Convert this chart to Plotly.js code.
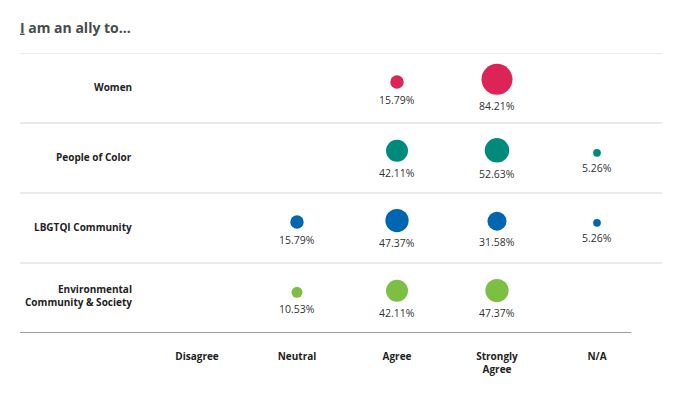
<!DOCTYPE html>
<html>
<head>
<meta charset="utf-8">
<script src="https://cdn.plot.ly/plotly-3.0.1.min.js"></script>
<style>html,body{margin:0;padding:0;background:#fff;}#chart{width:696px;height:396px;}</style>
</head>
<body>
<div id="chart"></div>
<script>
const responses = ['Disagree', 'Neutral', 'Agree', 'Strongly<br>Agree', 'N/A'];
const groups = ['Women', 'People of Color', 'LBGTQI Community', 'Environmental<br>Community & Society'];
const women = [null, null, 15.79, 84.21, null];
const peopleOfColor = [null, null, 42.11, 52.63, 5.26];
const lbgtqi = [null, 15.79, 47.37, 31.58, 5.26];
const environmental = [null, 10.53, 42.11, 47.37, null];
const seriesValues = [women, peopleOfColor, lbgtqi, environmental];
const colors = ['#DC2458', '#008A7C', '#0066B2', '#7CBF42'];

const font = "'Open Sans', 'Noto Sans', sans-serif";
const SIZEREF = 0.175;
const ROW_PX = 70; // plot height 280 / 4 rows
const radiusOf = v => Math.sqrt(v / 2 / SIZEREF); // plotly area-mode radius in px

const traces = [];
const annotations = [];
seriesValues.forEach((vals, r) => {
  const xs = [], ys = [], sz = [];
  vals.forEach((v, c) => {
    if (v === null) return;
    const rad = radiusOf(v);
    const yy = r - (4 + 0.3 * rad) / ROW_PX;
    xs.push(c); ys.push(yy); sz.push(v);
    annotations.push({xref: 'x', yref: 'y', x: c, y: yy, yshift: -(rad + 11),
      text: v.toFixed(2) + '%', showarrow: false, xanchor: 'center', yanchor: 'middle',
      font: {family: font, size: 10.5, color: '#333'}});
  });
  traces.push({
    type: 'scatter', mode: 'markers', x: xs, y: ys,
    marker: {size: sz, sizemode: 'area', sizeref: SIZEREF, color: colors[r], opacity: 1, line: {width: 0}},
    hoverinfo: 'skip', showlegend: false, cliponaxis: false
  });
});

const shapes = [];
for (let i = 0; i < groups.length; i++) {
  shapes.push({type: 'line', xref: 'paper', yref: 'y', x0: 0, x1: 1, y0: i - 0.5, y1: i - 0.5,
    line: {color: '#e3e3e3', width: 1.5}});
}
shapes.push({type: 'line', xref: 'paper', yref: 'y', x0: 0, x1: 0.952, y0: groups.length - 0.5, y1: groups.length - 0.5,
  line: {color: '#9e9e9e', width: 2.2}});

groups.forEach((g, i) => annotations.push({
  xref: 'x', yref: 'y', x: -0.63, y: i, yshift: g.includes('<br>') ? 3 : 1, text: '<b>' + g + '</b>',
  xanchor: 'right', yanchor: 'middle', align: 'right', showarrow: false,
  font: {family: font, size: 10, color: '#222'}
}));

const layout = {
  width: 696, height: 396,
  margin: {l: 20, r: 34, t: 53, b: 63},
  paper_bgcolor: '#fff', plot_bgcolor: '#fff',
  title: {text: '<b><span style="text-decoration:underline">I</span> am an ally to...</b>',
    x: 20 / 696, xref: 'container', xanchor: 'left', y: 0.93, yanchor: 'middle',
    font: {family: font, size: 14, color: '#4a4a4a'}},
  xaxis: {range: [-1.77, 4.65], tickvals: responses.map((_, i) => i), ticktext: responses.map(t => '<b>' + t + '</b>'),
    showgrid: false, zeroline: false, showline: false, ticks: '', ticklabelstandoff: 16,
    tickfont: {family: font, size: 10, color: '#222'}, fixedrange: true},
  yaxis: {range: [groups.length - 0.5, -0.5], showgrid: false, zeroline: false, showline: false,
    showticklabels: false, ticks: '', fixedrange: true},
  shapes: shapes, annotations: annotations
};

Plotly.newPlot('chart', traces, layout, {displayModeBar: false, staticPlot: true});
</script>
</body>
</html>
